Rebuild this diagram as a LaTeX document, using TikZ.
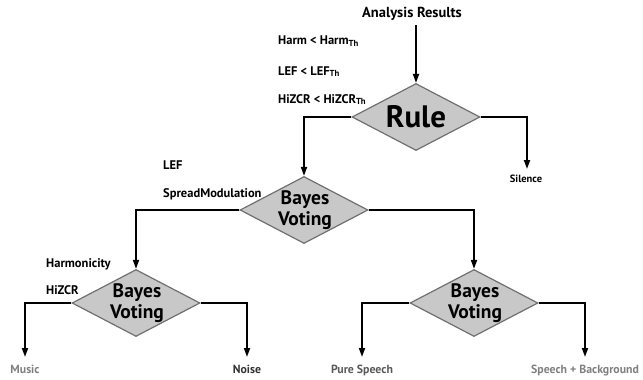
\documentclass[tikz,border=0pt]{standalone}
\usepackage{fontspec}
\setmainfont{PT Sans}
\usetikzlibrary{shapes.geometric,arrows.meta}
\definecolor{dfill}{HTML}{C8C8C8}
\definecolor{dline}{HTML}{707070}
\tikzset{
  dia/.style={diamond,draw=dline,fill=dfill,line width=1.2pt,inner sep=0pt,minimum width=128pt,minimum height=67pt},
  dtext/.style={font=\bfseries\fontsize{19.5}{21.5}\selectfont,align=center,inner sep=0pt},
  arr/.style={line width=1.8pt,-{Triangle[length=9pt,width=6pt]}},
  lab/.style={font=\bfseries\fontsize{12.5}{14}\selectfont,anchor=base west,inner sep=0pt},
  outl/.style={font=\bfseries\fontsize{11.8}{13}\selectfont,anchor=base,inner sep=0pt},
}
\begin{document}
\begin{tikzpicture}[x=1pt,y=-1pt]
\useasboundingbox (0,0) rectangle (643,380);
% top
\node[font=\bfseries\fontsize{14.5}{16}\selectfont,anchor=base,inner sep=0pt] (ar) at (412,17) {Analysis Results};
\node[dia] (rule) at (416,117) {};
\node[font=\bfseries\fontsize{31}{33}\selectfont,inner sep=0pt] (rulet) at (416,117) {Rule};
\node[lab] (c1) at (278,45) {Harm < Harm\textsubscript{Th}};
\node[lab] (c2) at (278,75) {LEF < LEF\textsubscript{Th}};
\node[lab] (c3) at (278,103) {HiZCR < HiZCR\textsubscript{Th}};
% bayes 1
\node[dia] (b1) at (304,210) {};
\node[dtext] (b1t) at (305,210) {Bayes\\Voting};
\node[lab] (d1) at (163,169) {LEF};
\node[lab] (d2) at (163,197) {SpreadModulation};
% bayes 2
\node[dia] (b2) at (136,303) {};
\node[dtext] (b2t) at (137,303) {Bayes\\Voting};
\node[lab] (e1) at (46,267) {Harmonicity};
\node[lab] (e2) at (46,294) {HiZCR};
% bayes 3
\node[dia] (b3) at (474,303) {};
\node[dtext] (b3t) at (475,303) {Bayes\\Voting};
% outputs
\node[outl,font=\bfseries\fontsize{10.5}{12}\selectfont] (sil) at (526,182) {Silence};
\node[outl,text=black!50] (mus) at (25,373) {Music};
\node[outl,text=black!80] (noi) at (247,373) {Noise};
\node[outl,text=black!65] (ps) at (362,373) {Pure Speech};
\node[outl,text=black!50] (sb) at (585,373) {Speech + Background};
% coordinates for arrow ends
\coordinate (arS) at (416,25);
\coordinate (silT) at (527,169);
\coordinate (musT) at (25,357);
\coordinate (noiT) at (247,357);
\coordinate (psT) at (362,357);
\coordinate (sbT) at (585,357);
% connectors
\draw[arr] (arS) -- (rule.north);
\draw[arr] (rule.west) -| (b1.north);
\draw[arr] (rule.east) -| (silT);
\draw[arr] (b1.west) -| (b2.north);
\draw[arr] (b1.east) -| (b3.north);
\draw[arr] (b2.west) -| (musT);
\draw[arr] (b2.east) -| (noiT);
\draw[arr] (b3.west) -| (psT);
\draw[arr] (b3.east) -| (sbT);
\end{tikzpicture}
\end{document}
